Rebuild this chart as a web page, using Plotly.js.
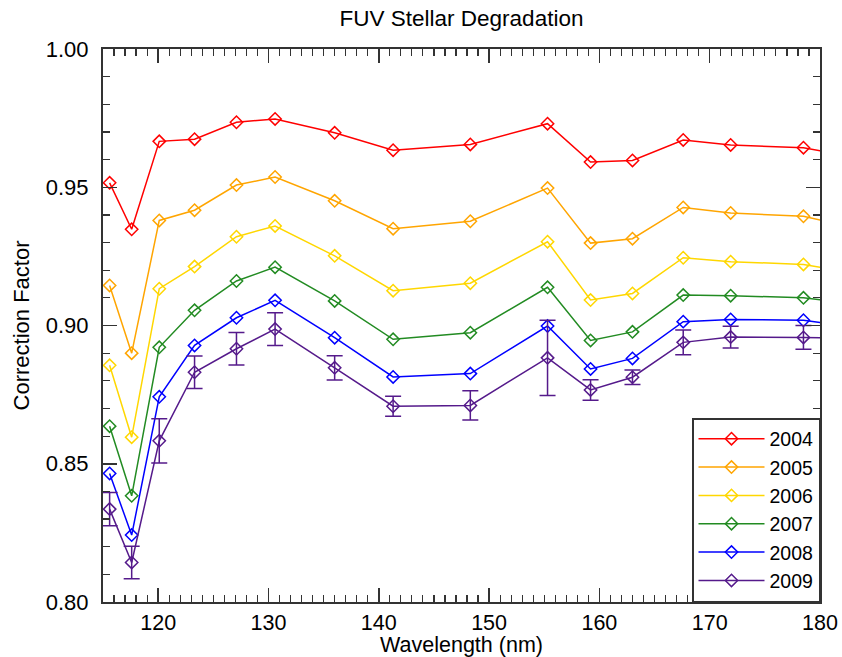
<!DOCTYPE html>
<html>
<head>
<meta charset="utf-8">
<script src="https://cdn.plot.ly/plotly-3.0.1.min.js"></script>
<style>html,body{margin:0;padding:0;background:#fff;}#chart{width:842px;height:657px;}</style>
</head>
<body>
<div id="chart"></div>
<script>
// Wavelength (nm); the last point lies just beyond the right edge of the axis
var wavelength = [115.6, 117.6, 120.1, 123.3, 127.1, 130.6, 136.0, 141.3, 148.3, 155.3, 159.2, 163.0, 167.6, 171.9, 178.5, 185.0];
var years = ["2004", "2005", "2006", "2007", "2008", "2009"];
var y2004 = [0.9516, 0.9348, 0.9666, 0.9674, 0.9735, 0.9747, 0.9697, 0.9634, 0.9655, 0.9730, 0.9591, 0.9597, 0.9671, 0.9653, 0.9643, 0.9597];
var y2005 = [0.9145, 0.8900, 0.9380, 0.9417, 0.9508, 0.9537, 0.9451, 0.9350, 0.9377, 0.9497, 0.9298, 0.9314, 0.9427, 0.9407, 0.9395, 0.9337];
var y2006 = [0.8856, 0.8596, 0.9133, 0.9213, 0.9321, 0.9360, 0.9252, 0.9126, 0.9153, 0.9303, 0.9092, 0.9116, 0.9245, 0.9231, 0.9221, 0.9175];
var y2007 = [0.8636, 0.8384, 0.8921, 0.9055, 0.9161, 0.9211, 0.9089, 0.8950, 0.8974, 0.9138, 0.8946, 0.8977, 0.9110, 0.9108, 0.9100, 0.9069];
var y2008 = [0.8465, 0.8242, 0.8742, 0.8928, 0.9028, 0.9091, 0.8956, 0.8814, 0.8826, 0.8998, 0.8843, 0.8881, 0.9014, 0.9022, 0.9019, 0.8984];
var y2009 = [0.8336, 0.8143, 0.8583, 0.8831, 0.8916, 0.8987, 0.8847, 0.8708, 0.8711, 0.8883, 0.8767, 0.8813, 0.8939, 0.8958, 0.8957, 0.8953];
var err2009 = [0.0060, 0.0059, 0.0080, 0.0059, 0.0059, 0.0059, 0.0044, 0.0036, 0.0053, 0.0136, 0.0037, 0.0026, 0.0045, 0.0039, 0.0043, 0.0043];
var colors = ["#ff0000", "#ffa500", "#ffd700", "#228b22", "#0000ff", "#551a8b"];
var series = [y2004, y2005, y2006, y2007, y2008, y2009];

var FONT = "Liberation Sans, Arial, sans-serif";
var AX = "#333333";

var traces = series.map(function (ys, i) {
  var t = {
    type: "scatter",
    mode: "lines+markers",
    name: years[i],
    x: wavelength,
    y: ys,
    line: {color: colors[i], width: 1.5},
    marker: {symbol: "diamond-open", size: 9.5, color: colors[i], line: {width: 1.5, color: colors[i]}}
  };
  if (i === 5) {
    t.error_y = {type: "data", array: err2009, visible: true, color: colors[i], thickness: 1.5, width: 8};
  }
  return t;
});

var layout = {
  width: 842,
  height: 657,
  margin: {l: 103, r: 22, t: 49, b: 55},
  paper_bgcolor: "#ffffff",
  plot_bgcolor: "#ffffff",
  font: {family: FONT, size: 22, color: "#000"},
  showlegend: true,
  title: {
    text: "FUV Stellar Degradation",
    font: {family: FONT, size: 22.5, color: "#000"},
    xref: "paper", x: 0.5, xanchor: "center",
    yref: "container", y: 0.972, yanchor: "middle"
  },
  xaxis: {
    range: [115, 180],
    dtick: 10, tick0: 0,
    ticks: "inside", ticklen: 14, tickwidth: 1.5, tickcolor: AX,
    showline: true, linecolor: AX, linewidth: 2, mirror: "ticks",
    showgrid: false, zeroline: false,
    minor: {dtick: 1, ticks: "inside", ticklen: 7, tickwidth: 1.2, tickcolor: AX, showgrid: false},
    tickfont: {family: FONT, size: 21.5, color: "#000"},
    ticklabelstandoff: 0,
    title: {text: "Wavelength (nm)", font: {family: FONT, size: 21.5, color: "#000"}, standoff: 6}
  },
  yaxis: {
    range: [0.80, 1.00],
    dtick: 0.05, tick0: 0,
    tickformat: ".2f",
    ticks: "inside", ticklen: 14, tickwidth: 1.5, tickcolor: AX,
    showline: true, linecolor: AX, linewidth: 2, mirror: "ticks",
    showgrid: false, zeroline: false,
    minor: {dtick: 0.01, ticks: "inside", ticklen: 7, tickwidth: 1.2, tickcolor: AX, showgrid: false},
    tickfont: {family: FONT, size: 22, color: "#000"},
    ticklabelstandoff: 8,
    title: {text: "Correction Factor", font: {family: FONT, size: 22, color: "#000"}, standoff: 10}
  },
  legend: {
    x: 1, xanchor: "right", y: 0, yanchor: "bottom",
    xref: "paper", yref: "paper",
    bgcolor: "#ffffff", bordercolor: AX, borderwidth: 1.5,
    font: {family: FONT, size: 19.5, color: "#000"},
    itemwidth: 66,
    tracegroupgap: 0
  }
};

Plotly.newPlot("chart", traces, layout, {staticPlot: true, displayModeBar: false});
</script>
</body>
</html>
